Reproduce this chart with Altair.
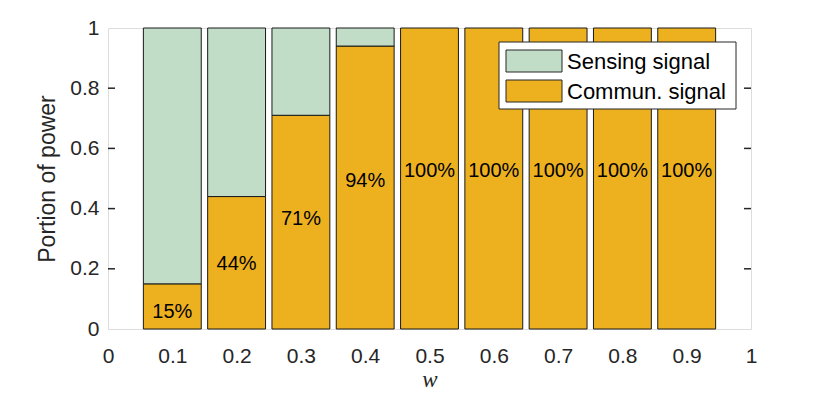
import altair as alt
import pandas as pd

# ---- data ----
w_values = [0.1, 0.2, 0.3, 0.4, 0.5, 0.6, 0.7, 0.8, 0.9]
commun_share = [0.15, 0.44, 0.71, 0.94, 1.0, 1.0, 1.0, 1.0, 1.0]
sensing_share = [0.85, 0.56, 0.29, 0.06, 0.0, 0.0, 0.0, 0.0, 0.0]
pct_labels = ["15%", "44%", "71%", "94%", "100%", "100%", "100%", "100%", "100%"]
series_names = ["Sensing signal", "Commun. signal"]
series_colors = ["#C1DDC7", "#EDB120"]
x_ticks = [0, 0.1, 0.2, 0.3, 0.4, 0.5, 0.6, 0.7, 0.8, 0.9, 1.0]
y_ticks = [0, 0.2, 0.4, 0.6, 0.8, 1.0]

W, H = 643, 301
FONT = "Liberation Sans"
AX = "#262626"

rows = []
for w, c, s in zip(w_values, commun_share, sensing_share):
    rows.append({"w": w, "series": series_names[1], "y0": 0.0, "y1": c})
    if s > 0:
        rows.append({"w": w, "series": series_names[0], "y0": c, "y1": c + s})
bars_df = pd.DataFrame(rows)
labels_df = pd.DataFrame({"w": w_values, "c": commun_share, "label": pct_labels})
inner_ticks = pd.DataFrame({"v": [t for t in y_ticks if 0 < t < 1]})

xs = alt.Scale(domain=[0, 1], nice=False, zero=False)
ys = alt.Scale(domain=[0, 1], nice=False, zero=False)

x_axis = alt.Axis(
    values=x_ticks, format="~g", title="w",
    titleFont="Liberation Serif", titleFontStyle="italic", titleFontWeight="normal",
    titleFontSize=23, titleColor=AX, titleX=W / 2, titleY=57,
    titleAlign="center", titleBaseline="alphabetic",
    labelFont=FONT, labelFontSize=21, labelColor=AX, labelPadding=16,
    labelFlush=False, labelOverlap=False,
    ticks=False, domain=False, grid=False,
)
y_axis = alt.Axis(
    values=y_ticks, format="~g", title="Portion of power",
    titleFont=FONT, titleFontWeight="normal", titleFontSize=23, titleColor=AX,
    titleX=-61, titleY=H / 2, titleAngle=270, titleAlign="center", titleBaseline="middle",
    labelFont=FONT, labelFontSize=21, labelColor=AX, labelPadding=9,
    labelFlush=False, labelOverlap=False,
    ticks=False, domain=False, grid=False,
)

bars = alt.Chart(bars_df).transform_calculate(
    xl="datum.w - 0.045", xr="datum.w + 0.045"
).mark_rect(stroke="#1a1a1a", strokeWidth=1).encode(
    x=alt.X("xl:Q", scale=xs, axis=x_axis),
    x2="xr:Q",
    y=alt.Y("y0:Q", scale=ys, axis=y_axis),
    y2="y1:Q",
    color=alt.Color("series:N", scale=alt.Scale(domain=series_names, range=series_colors), legend=None),
)

texts = alt.Chart(labels_df).transform_calculate(
    ly="0.553 * datum.c - 0.027"
).mark_text(font=FONT, fontSize=20, color="black", align="center", baseline="middle").encode(
    x=alt.X("w:Q", scale=xs),
    y=alt.Y("ly:Q", scale=ys),
    text="label:N",
)

left_ticks = alt.Chart(inner_ticks).mark_rule(color=AX, strokeWidth=1.5).encode(
    x=alt.value(0), x2=alt.value(7), y=alt.Y("v:Q", scale=ys)
)
right_ticks = alt.Chart(inner_ticks).mark_rule(color=AX, strokeWidth=1.5).encode(
    x=alt.value(W - 7), x2=alt.value(W), y=alt.Y("v:Q", scale=ys)
)

# legend box drawn manually (MATLAB-style rectangular swatches)
one = pd.DataFrame({"series": series_names})
leg_box = alt.Chart(one.head(1)).mark_rect(fill="white", stroke=AX, strokeWidth=1).encode(
    x=alt.value(391), x2=alt.value(628), y=alt.value(14), y2=alt.value(81)
)
leg_layers = [leg_box]
for i, (name, col) in enumerate(zip(series_names, series_colors)):
    d = pd.DataFrame({"series": [name]})
    y_top = 22 + i * 30
    leg_layers.append(
        alt.Chart(d).mark_rect(fill=col, stroke=AX, strokeWidth=1).encode(
            x=alt.value(398), x2=alt.value(454), y=alt.value(y_top), y2=alt.value(y_top + 22)
        )
    )
    leg_layers.append(
        alt.Chart(d).mark_text(font=FONT, fontSize=22, color="black", align="left", baseline="middle").encode(
            x=alt.value(459), y=alt.value(y_top + 12), text="series:N"
        )
    )

chart = alt.layer(bars, texts, left_ticks, right_ticks, *leg_layers).properties(
    width=W, height=H,
    autosize=alt.AutoSizeParams(type="none"),
    padding={"left": 100, "top": 20, "right": 50, "bottom": 66},
).configure_view(stroke=AX, strokeWidth=1.5).configure(background="white")

chart.save("out.html", embed_options={"renderer": "svg", "actions": False})
